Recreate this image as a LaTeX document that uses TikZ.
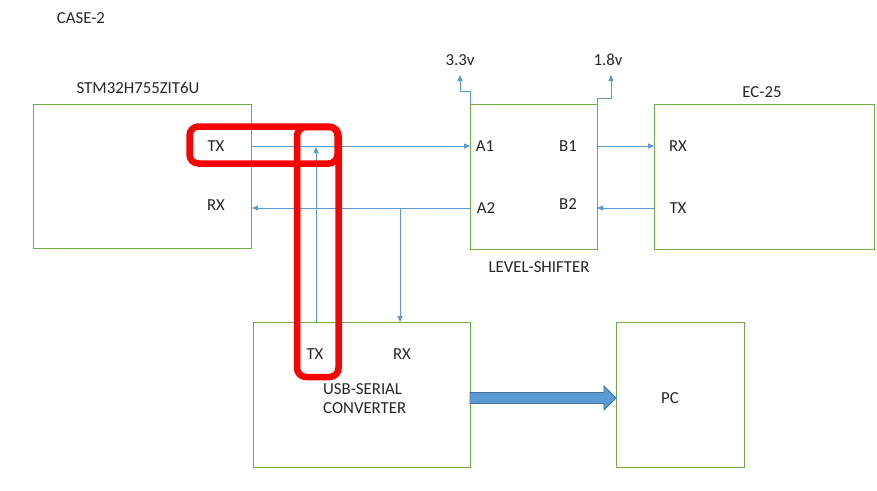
\documentclass[tikz,border=0pt]{standalone}
\usepackage{fontspec}
\setmainfont{Carlito}
\usetikzlibrary{arrows.meta}
\definecolor{gbox}{HTML}{70AD47}
\definecolor{bline}{HTML}{5B9BD5}
\definecolor{bdark}{HTML}{41719C}
\definecolor{txt}{HTML}{262626}
\tikzset{
  blk/.style={draw=gbox, line width=0.9pt},
  lbl/.style={inner sep=0pt, text=txt, font=\fontsize{16.8}{19}\selectfont},
  wire/.style={draw=bline, line width=0.9pt},
  arr/.style={wire, -{Triangle[length=6pt,width=5pt]}},
  hl/.style={draw=red, line width=6.5pt, rounded corners=9pt}
}
\begin{document}
\begin{tikzpicture}[x=1pt,y=-1pt]
\useasboundingbox (0,0) rectangle (877,490);
% boxes
\draw[blk] (33,104) rectangle (251,248);
\draw[blk] (470,104) rectangle (597,249);
\draw[blk] (654,104) rectangle (874,249);
\draw[blk] (253,322) rectangle (470,467);
\draw[blk] (616,322) rectangle (744,467);
% texts
\node[lbl] (case) at (81,18) {CASE-2};
\node[lbl] (stm) at (138,88) {STM32H755ZIT6U};
\node[lbl] (stx) at (216,146) {TX};
\node[lbl] (srx) at (216,205) {RX};
\node[lbl] (a1) at (485,146) {A1};
\node[lbl] (b1) at (568,146) {B1};
\node[lbl] (a2) at (486,208) {A2};
\node[lbl] (b2) at (568,204) {B2};
\node[lbl] (erx) at (678,146) {RX};
\node[lbl] (etx) at (678,208) {TX};
\node[lbl] (ec) at (762,92) {EC-25};
\node[lbl] (ls) at (539,267) {LEVEL-SHIFTER};
\node[lbl] (utx) at (315,354) {TX};
\node[lbl] (urx) at (402,354) {RX};
\node[lbl, align=left, anchor=north west] (usb) at (323,383) {USB-SERIAL\\CONVERTER};
\node[lbl] (pc) at (670,398) {PC};
\node[lbl] (v33) at (460,60) {3.3v};
\node[lbl] (v18) at (608,60) {1.8v};
% coordinates
\coordinate (p1) at (252,146);
\coordinate (p2) at (470,146);
\coordinate (p3) at (470,208);
\coordinate (p4) at (252,208);
\coordinate (p5) at (400,208);
\coordinate (p6) at (400,322);
\coordinate (p7) at (316,322);
\coordinate (p8) at (316,147);
\coordinate (p9) at (597,146);
\coordinate (p10) at (654,146);
\coordinate (p11) at (654,208);
\coordinate (p12) at (597,208);
% wires
\draw[arr] (p1) -- (p2);
\draw[arr] (p3) -- (p4);
\draw[arr] (p5) -- (p6);
\draw[arr] (p7) -- (p8);
\draw[arr] (p9) -- (p10);
\draw[arr] (p11) -- (p12);
\draw[arr] (470,104) -- (470,91) -- (460,91) -- (460,75);
\draw[arr] (597,120) -- (597,98) -- (611,98) -- (611,75);
% big arrow
\draw[draw=bdark, fill=bline, line width=0.8pt]
  (470,392.5) -- (604,392.5) -- (604,386) -- (616,398) -- (604,410) -- (604,403.5) -- (470,403.5) -- cycle;
% highlights
\draw[hl] (189.5,126.5) rectangle (337.5,163.5);
\draw[hl] (297,127) rectangle (338.5,377);
\end{tikzpicture}
\end{document}
